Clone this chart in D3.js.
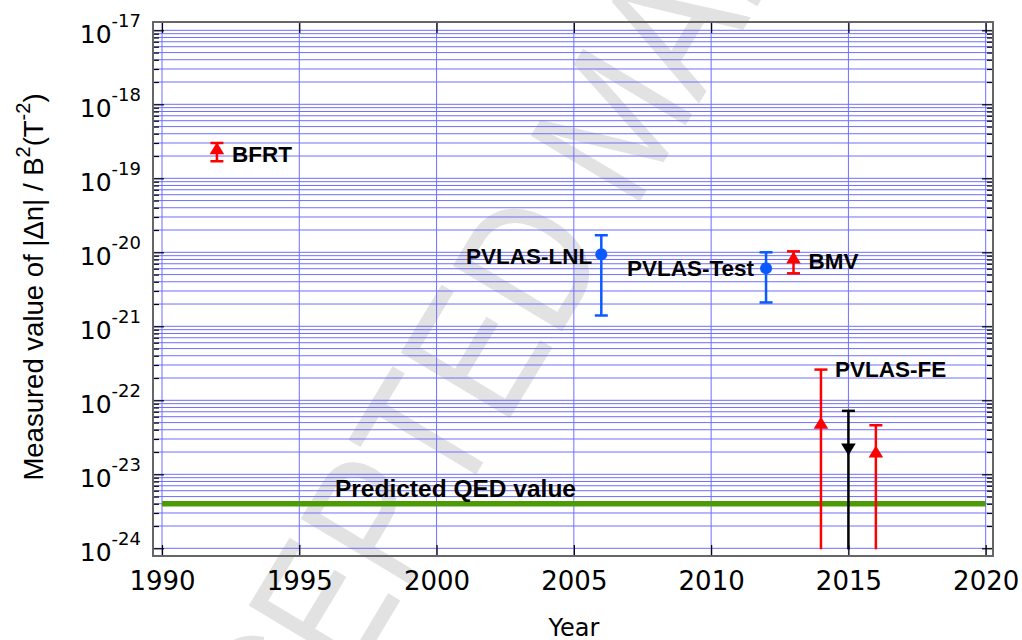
<!DOCTYPE html>
<html>
<head>
<meta charset="utf-8">
<script src="https://cdn.jsdelivr.net/npm/d3@7"></script>
<style>
  body { margin: 0; background: #fff; }
  svg { display: block; }
</style>
</head>
<body>
<svg id="chart" width="1022" height="640"></svg>
<script>
const experiment = ["BFRT", "PVLAS-LNL", "PVLAS-Test", "BMV", "PVLAS-FE", "PVLAS-FE", "PVLAS-FE"];
const years  = [1992, 2006, 2012, 2013, 2014, 2015, 2016];
const values = [2.5e-19, 9.4e-21, 6.1e-21, 8.4e-21, 4.9e-23, 2.2e-23, 2.0e-23];
const upper  = [3.0e-19, 1.7e-20, 1.0e-20, 1.03e-20, 2.6e-22, 7.2e-23, 4.6e-23];
const lower  = [1.7e-19, 1.4e-21, 2.1e-21, 5.2e-21, null, null, null]; // null = no lower bound
const qedValue = 4e-24;
const qedLabel = "Predicted QED value";

// axes
const xTickYears = [1990, 1995, 2000, 2005, 2010, 2015, 2020];
const yExponents = [-24, -23, -22, -21, -20, -19, -18, -17];

// styles (one per measurement)
const markStyle = [
  {color: "#ff0000", shape: "up"},
  {color: "#0a5aff", shape: "circle"},
  {color: "#0a5aff", shape: "circle"},
  {color: "#ff0000", shape: "up"},
  {color: "#ff0000", shape: "up"},
  {color: "#000000", shape: "down"},
  {color: "#ff0000", shape: "up"}
];
// where each label sits relative to its point
const labelPos = [
  {dx: 15, dy: 13, anchor: "start"},
  {dx: -9, dy: 10, anchor: "end"},
  {dx: -12, dy: 8, anchor: "end"},
  {dx: 15, dy: 11, anchor: "start"},
  {dx: 14, dy: 7, anchor: "start", atUpper: true},
  null,
  null
];

const svg = d3.select("#chart");
const frame = {left: 153, right: 993, top: 22, bottom: 556};

const x = d3.scaleLinear().domain([1990, 2020]).range([162, 985.7]);
const y = d3.scaleLog().domain([1e-24, 1e-17]).range([548.3, 30.3]);

const major = yExponents.map(e => Math.pow(10, e));
const minor = [];
yExponents.slice(0, -1).forEach(e => {
  for (let k = 2; k <= 9; k++) minor.push(k * Math.pow(10, e));
});

// watermark
const wmSize = 185;
svg.append("g")
  .attr("transform", "translate(566,196) rotate(-59) scale(0.82,1)")
  .append("text")
  .attr("x", -5.584 * wmSize)
  .attr("y", 0.358 * wmSize)
  .attr("font-family", "Liberation Sans, Arial, sans-serif")
  .attr("font-size", wmSize)
  .attr("fill", "#e2e2e2")
  .text("ACCEPTED MANUSCRIPT");

// grid
const grid = svg.append("g").attr("stroke", "#6e6eff").attr("stroke-width", 1);
grid.selectAll("line.h")
  .data(major.concat(minor))
  .enter().append("line")
  .attr("class", "h")
  .attr("x1", frame.left).attr("x2", frame.right)
  .attr("y1", d => y(d)).attr("y2", d => y(d));
grid.selectAll("line.v")
  .data(xTickYears)
  .enter().append("line")
  .attr("class", "v")
  .attr("x1", d => x(d)).attr("x2", d => x(d))
  .attr("y1", frame.top).attr("y2", frame.bottom);

// ticks on all four sides, pointing in
function ticks(axis, tx, ty) {
  const g = svg.append("g")
    .attr("transform", `translate(${tx},${ty})`)
    .call(axis);
  g.select(".domain").remove();
  g.selectAll("line").attr("stroke", "#000").attr("stroke-width", 1.2);
  return g;
}
ticks(d3.axisLeft(y).tickValues(major).tickSize(-11).tickFormat(""), frame.left, 0);
ticks(d3.axisLeft(y).tickValues(minor).tickSize(-6).tickFormat(""), frame.left, 0);
ticks(d3.axisRight(y).tickValues(major).tickSize(-11).tickFormat(""), frame.right, 0);
ticks(d3.axisRight(y).tickValues(minor).tickSize(-6).tickFormat(""), frame.right, 0);
ticks(d3.axisTop(x).tickValues(xTickYears).tickSize(-11).tickFormat(""), 0, frame.top);
const bottomAxis = ticks(d3.axisBottom(x).tickValues(xTickYears).tickSize(-11).tickPadding(16).tickFormat(d3.format("d")), 0, frame.bottom);
bottomAxis.selectAll("text")
  .attr("font-family", "DejaVu Sans, sans-serif")
  .attr("font-size", 26)
  .attr("fill", "#000");

// frame
svg.append("rect")
  .attr("x", frame.left).attr("y", frame.top)
  .attr("width", frame.right - frame.left)
  .attr("height", frame.bottom - frame.top)
  .attr("fill", "none")
  .attr("stroke", "#666")
  .attr("stroke-width", 2);

// y tick labels: 10^n
const yLab = svg.append("g").attr("font-family", "DejaVu Sans, sans-serif").attr("fill", "#000");
yExponents.forEach(e => {
  const t = yLab.append("text")
    .attr("x", 141)
    .attr("y", y(Math.pow(10, e)) + 12.5)
    .attr("text-anchor", "end");
  t.append("tspan").attr("font-size", 25).text("10");
  t.append("tspan").attr("font-size", 18).attr("dy", -16).text(String(e));
});

// axis titles
svg.append("text")
  .attr("x", x(2005)).attr("y", 636)
  .attr("text-anchor", "middle")
  .attr("font-family", "DejaVu Sans, sans-serif")
  .attr("font-size", 24)
  .text("Year");

const yt = svg.append("text")
  .attr("transform", "translate(43,287) rotate(-90)")
  .attr("text-anchor", "middle")
  .attr("font-family", "Liberation Sans, Arial, sans-serif")
  .attr("font-size", 27.5);
yt.append("tspan").text("Measured value of |\u0394n| / B");
yt.append("tspan").attr("font-size", 20).attr("dy", -13).text("2");
yt.append("tspan").attr("dy", 13).text("(T");
yt.append("tspan").attr("font-size", 20).attr("dy", -13).text("-2");
yt.append("tspan").attr("dy", 13).text(")");

// QED prediction
svg.append("line")
  .attr("x1", x(1990)).attr("x2", x(2020))
  .attr("y1", y(qedValue)).attr("y2", y(qedValue))
  .attr("stroke", "#4c9a06")
  .attr("stroke-width", 5.5);

// measurements
const pts = years.map((yr, i) => ({
  year: yr, v: values[i], hi: upper[i], lo: lower[i], name: experiment[i], style: markStyle[i], lab: labelPos[i]
}));

const marks = svg.append("g");
pts.forEach(d => {
  const cx = x(d.year), cy = y(d.v);
  const yHi = y(d.hi);
  const yLo = d.lo === null ? y.range()[0] + 1 : y(d.lo);
  const g = marks.append("g").attr("stroke", d.style.color).attr("fill", d.style.color);
  g.append("line").attr("x1", cx).attr("x2", cx).attr("y1", yHi).attr("y2", yLo).attr("stroke-width", 2.5);
  g.append("line").attr("x1", cx - 6.5).attr("x2", cx + 6.5).attr("y1", yHi).attr("y2", yHi).attr("stroke-width", 2.5);
  if (d.lo !== null) {
    g.append("line").attr("x1", cx - 6.5).attr("x2", cx + 6.5).attr("y1", yLo).attr("y2", yLo).attr("stroke-width", 2.5);
  }
  if (d.style.shape === "circle") {
    g.append("circle").attr("cx", cx).attr("cy", cy).attr("r", 6).attr("stroke", "none");
  } else {
    const s = d.style.shape === "up" ? 1 : -1;
    g.append("path")
      .attr("d", `M${cx},${cy - s * 6.5} L${cx + 7.3},${cy + s * 5.5} L${cx - 7.3},${cy + s * 5.5} Z`)
      .attr("stroke", "none");
  }
});

// labels
const labels = svg.append("g")
  .attr("font-family", "Liberation Sans, Arial, sans-serif")
  .attr("font-weight", "bold")
  .attr("font-size", 22.5)
  .attr("fill", "#000");
pts.forEach(d => {
  if (!d.lab) return;
  const base = d.lab.atUpper ? y(d.hi) : y(d.v);
  labels.append("text")
    .attr("x", x(d.year) + d.lab.dx)
    .attr("y", base + d.lab.dy)
    .attr("text-anchor", d.lab.anchor)
    .text(d.name);
});
labels.append("text")
  .attr("x", x(1996.3))
  .attr("y", y(qedValue) - 7)
  .attr("font-size", 24.5)
  .text(qedLabel);
</script>
</body>
</html>
